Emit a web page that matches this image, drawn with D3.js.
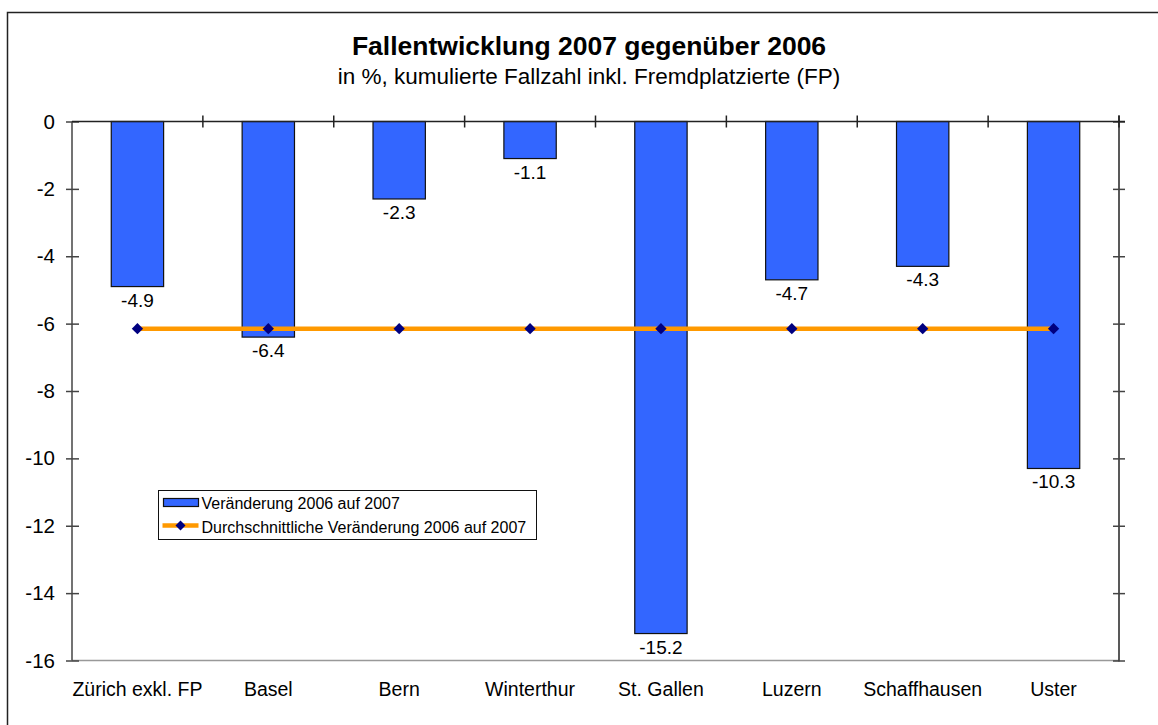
<!DOCTYPE html>
<html>
<head>
<meta charset="utf-8">
<script src="https://cdn.jsdelivr.net/npm/d3@7"></script>
<style>
  body { margin: 0; background: #fff; }
  text { font-family: "Liberation Sans", Arial, sans-serif; fill: #000; }
</style>
</head>
<body>
<script>
// chart data
var categories = ["Zürich exkl. FP", "Basel", "Bern", "Winterthur", "St. Gallen", "Luzern", "Schaffhausen", "Uster"];
var changes = [-4.9, -6.4, -2.3, -1.1, -15.2, -4.7, -4.3, -10.3];
var average = [-6.15, -6.15, -6.15, -6.15, -6.15, -6.15, -6.15, -6.15];
var yTicks = [0, -2, -4, -6, -8, -10, -12, -14, -16];
var legendLabels = ["Veränderung 2006 auf 2007", "Durchschnittliche Veränderung 2006 auf 2007"];

var W = 1158, H = 725;
// plot area edges (note: "top" clashes with window.top, so prefixed)
var pLeft = 72, pRight = 1119, pTop = 121.5, pBottom = 660.5;

var svg = d3.select("body").append("svg")
    .attr("width", W)
    .attr("height", H);

// outer frame (runs off the right/bottom edge like the original)
svg.append("rect")
    .attr("x", 7.5).attr("y", 12.5)
    .attr("width", 1200).attr("height", 760)
    .attr("fill", "none")
    .attr("stroke", "#222")
    .attr("stroke-width", 1.5);

// titles
svg.append("text")
    .attr("x", 589).attr("y", 55)
    .attr("text-anchor", "middle")
    .style("font-size", "26.5px").style("font-weight", "bold")
    .text("Fallentwicklung 2007 gegenüber 2006");
svg.append("text")
    .attr("x", 589).attr("y", 84)
    .attr("text-anchor", "middle")
    .style("font-size", "22.5px")
    .text("in %, kumulierte Fallzahl inkl. Fremdplatzierte (FP)");

var x = d3.scaleBand().domain(categories).range([pLeft, pRight]);
var y = d3.scaleLinear().domain([0, -16]).range([pTop, pBottom]);
var barW = x.bandwidth() * 0.4;

// plot area bottom line
svg.append("line")
    .attr("x1", pLeft).attr("x2", pRight)
    .attr("y1", y(-16)).attr("y2", y(-16))
    .attr("stroke", "#999").attr("stroke-width", 1.5);

// bars
svg.selectAll("rect.bar").data(changes).enter().append("rect")
    .attr("class", "bar")
    .attr("x", function (d, i) { return x(categories[i]) + x.bandwidth() / 2 - barW / 2; })
    .attr("y", y(0))
    .attr("width", barW)
    .attr("height", function (d) { return y(d) - y(0); })
    .attr("fill", "#3366FF")
    .attr("stroke", "#111")
    .attr("stroke-width", 1.2);

// bar value labels
svg.selectAll("text.val").data(changes).enter().append("text")
    .attr("class", "val")
    .attr("x", function (d, i) { return x(categories[i]) + x.bandwidth() / 2; })
    .attr("y", function (d) { return y(d) + 20; })
    .attr("text-anchor", "middle")
    .style("font-size", "19px")
    .text(function (d) { return d.toFixed(1); });

// left axis
var yAxisL = svg.append("g").attr("transform", "translate(" + pLeft + ",0)")
    .call(d3.axisLeft(y).tickValues(yTicks).tickSize(6).tickPadding(10).tickFormat(d3.format("d")));
yAxisL.select(".domain").attr("stroke", "#444").attr("stroke-width", 1.5).attr("d", "M0," + pTop + "V" + pBottom);
yAxisL.selectAll(".tick line").attr("x1", 7).attr("x2", -6).attr("stroke", "#444").attr("stroke-width", 1.5);
yAxisL.selectAll(".tick text").style("font-size", "20.5px").attr("x", -17)
    .text(function (d) { return d === 0 ? "0" : "-" + Math.abs(d); });

// right axis (ticks only)
var yAxisR = svg.append("g").attr("transform", "translate(" + pRight + ",0)")
    .call(d3.axisRight(y).tickValues(yTicks).tickFormat(""));
yAxisR.select(".domain").attr("stroke", "#222").attr("stroke-width", 1.5).attr("d", "M0," + (pTop - 6) + "V" + (pBottom + 1));
yAxisR.selectAll(".tick line").attr("x1", -6).attr("x2", 6).attr("stroke", "#444").attr("stroke-width", 1.5);

// category axis at zero
var xTickPos = categories.map(function (c) { return x(c); }).concat([pRight]);
var zeroAxis = svg.append("g");
zeroAxis.append("line")
    .attr("x1", pLeft).attr("x2", pRight + 6)
    .attr("y1", y(0)).attr("y2", y(0))
    .attr("stroke", "#222").attr("stroke-width", 1.5);
zeroAxis.selectAll("line.t").data(xTickPos.slice(1)).enter().append("line")
    .attr("class", "t")
    .attr("x1", function (d) { return d; }).attr("x2", function (d) { return d; })
    .attr("y1", y(0) - 6).attr("y2", y(0) + 6)
    .attr("stroke", "#222").attr("stroke-width", 1.5);

// category labels
svg.selectAll("text.cat").data(categories).enter().append("text")
    .attr("class", "cat")
    .attr("x", function (d) { return x(d) + x.bandwidth() / 2; })
    .attr("y", 696)
    .attr("text-anchor", "middle")
    .style("font-size", "19.5px")
    .text(function (d) { return d; });

// average line
var line = d3.line()
    .x(function (d, i) { return x(categories[i]) + x.bandwidth() / 2; })
    .y(function (d) { return y(d); });
svg.append("path")
    .datum(average)
    .attr("d", line)
    .attr("fill", "none")
    .attr("stroke", "#FF9900")
    .attr("stroke-width", 4.5);

svg.selectAll("path.mk").data(average).enter().append("path")
    .attr("class", "mk")
    .attr("transform", function (d, i) {
        return "translate(" + (x(categories[i]) + x.bandwidth() / 2) + "," + y(d) + ") rotate(45)";
    })
    .attr("d", d3.symbol().type(d3.symbolSquare).size(64))
    .attr("fill", "#000080");

// legend
var lg = svg.append("g").attr("transform", "translate(158.5,490.5)");
lg.append("rect")
    .attr("width", 378).attr("height", 49)
    .attr("fill", "#fff").attr("stroke", "#111").attr("stroke-width", 1);
lg.append("rect")
    .attr("x", 5).attr("y", 8).attr("width", 35).attr("height", 8)
    .attr("fill", "#3366FF").attr("stroke", "#111").attr("stroke-width", 1.2);
lg.append("line")
    .attr("x1", 4).attr("x2", 40).attr("y1", 35).attr("y2", 35)
    .attr("stroke", "#FF9900").attr("stroke-width", 4.5);
lg.append("path")
    .attr("transform", "translate(22,35) rotate(45)")
    .attr("d", d3.symbol().type(d3.symbolSquare).size(50))
    .attr("fill", "#000080");
lg.selectAll("text").data(legendLabels).enter().append("text")
    .attr("x", 43)
    .attr("y", function (d, i) { return 18 + i * 24.5; })
    .style("font-size", "16px")
    .text(function (d) { return d; });
</script>
</body>
</html>
